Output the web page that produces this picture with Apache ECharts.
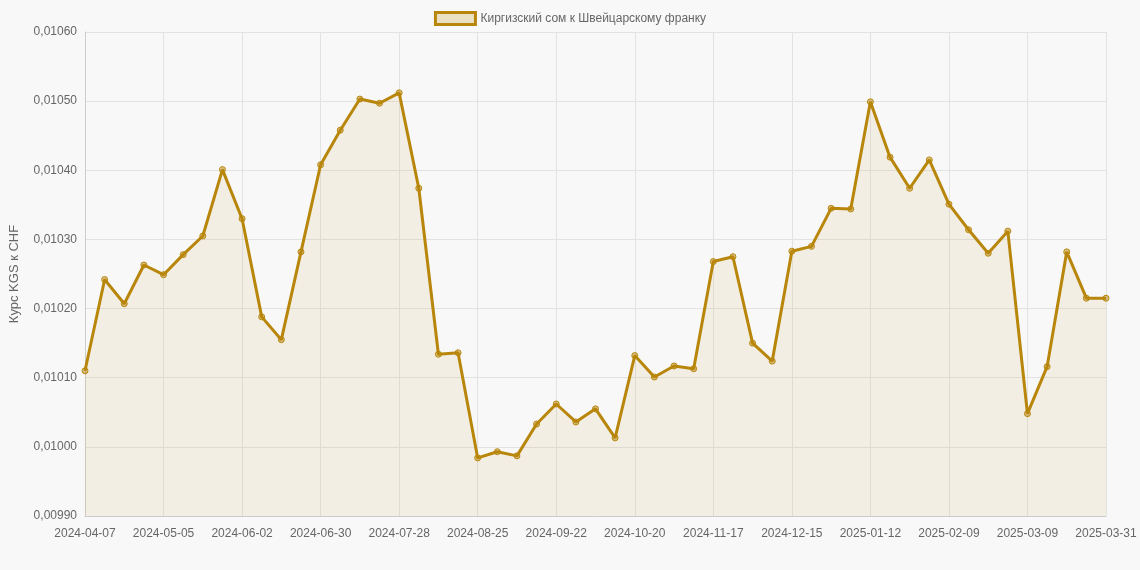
<!DOCTYPE html>
<html>
<head>
<meta charset="utf-8">
<script src="https://cdn.jsdelivr.net/npm/echarts@6/dist/echarts.min.js"></script>
<style>
html, body { margin: 0; padding: 0; background: #f8f8f8; }
#chart { width: 1140px; height: 570px; }
</style>
</head>
<body>
<div id="chart"></div>
<script>
// Даты (еженедельно) и курс KGS к CHF
const dates = [
    '2024-04-07', '2024-04-14', '2024-04-21', '2024-04-28', '2024-05-05', '2024-05-12', '2024-05-19', '2024-05-26',
    '2024-06-02', '2024-06-09', '2024-06-16', '2024-06-23', '2024-06-30', '2024-07-07', '2024-07-14', '2024-07-21',
    '2024-07-28', '2024-08-04', '2024-08-11', '2024-08-18', '2024-08-25', '2024-09-01', '2024-09-08', '2024-09-15',
    '2024-09-22', '2024-09-29', '2024-10-06', '2024-10-13', '2024-10-20', '2024-10-27', '2024-11-03', '2024-11-10',
    '2024-11-17', '2024-11-24', '2024-12-01', '2024-12-08', '2024-12-15', '2024-12-22', '2024-12-29', '2025-01-05',
    '2025-01-12', '2025-01-19', '2025-01-26', '2025-02-02', '2025-02-09', '2025-02-16', '2025-02-23', '2025-03-02',
    '2025-03-09', '2025-03-16', '2025-03-23', '2025-03-30', '2025-03-31'
];
const rates = [
    0.010110, 0.010242, 0.010207, 0.010263, 0.010249, 0.010278, 0.010305, 0.010401,
    0.010330, 0.010188, 0.010155, 0.010282, 0.010408, 0.010458, 0.010503, 0.010497,
    0.010512, 0.010374, 0.010134, 0.010136, 0.009984, 0.009993, 0.009987, 0.010033,
    0.010062, 0.010036, 0.010055, 0.010013, 0.010132, 0.010101, 0.010117, 0.010113,
    0.010268, 0.010275, 0.010150, 0.010124, 0.010283, 0.010290, 0.010345, 0.010344,
    0.010499, 0.010419, 0.010374, 0.010415, 0.010351, 0.010314, 0.010280, 0.010312,
    0.010048, 0.010116, 0.010282, 0.010215, 0.010215
];

const chart = echarts.init(document.getElementById('chart'));
const gold = '#b8860b';

chart.setOption({
    animation: false,
    textStyle: { fontFamily: 'Liberation Sans, Arial, sans-serif' },
    legend: {
        top: 6,
        itemWidth: 40,
        itemHeight: 12,
        icon: 'rect',
        textStyle: { color: '#666', fontSize: 12 },
        itemStyle: { color: 'rgba(210,180,100,0.35)', borderColor: gold, borderWidth: 3 },
        data: ['Киргизский сом к Швейцарскому франку']
    },
    grid: { left: 77, right: 34, top: 32, bottom: 54 },
    xAxis: {
        type: 'category',
        data: dates,
        boundaryGap: false,
        axisLine: { lineStyle: { color: '#ccc' } },
        axisTick: { show: false },
        axisLabel: {
            color: '#666', fontSize: 12, margin: 12,
            interval: function (i) { return i % 4 === 0; }
        },
        splitLine: { show: true, interval: function (i) { return i % 4 === 0; }, lineStyle: { color: '#e2e2e2' } }
    },
    yAxis: {
        type: 'value',
        min: 0.0099,
        max: 0.0106,
        interval: 0.0001,
        name: 'Курс KGS к CHF',
        nameLocation: 'middle',
        nameGap: 64,
        nameTextStyle: { color: '#666', fontSize: 13 },
        axisLine: { show: true, lineStyle: { color: '#ccc' } },
        axisLabel: {
            color: '#666', fontSize: 12,
            formatter: function (v) { return v.toFixed(5).replace('.', ','); }
        },
        splitLine: { lineStyle: { color: '#e2e2e2' } }
    },
    series: [{
        name: 'Киргизский сом к Швейцарскому франку',
        type: 'line',
        data: rates,
        symbol: 'circle',
        symbolSize: 6,
        itemStyle: { color: 'rgba(184,134,11,0.5)', borderColor: gold, borderWidth: 1 },
        lineStyle: { color: gold, width: 3 },
        areaStyle: { color: 'rgba(210,180,100,0.2)' }
    }]
});
</script>
</body>
</html>
